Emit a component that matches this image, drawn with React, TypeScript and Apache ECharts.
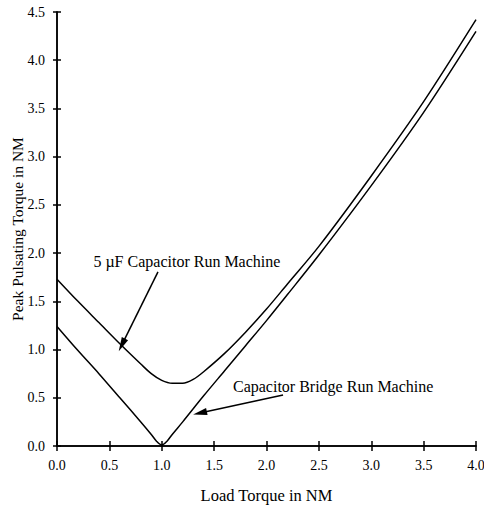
import React, { useEffect, useRef } from "react";
import * as echarts from "echarts";

const xTicks = [0, 0.5, 1.0, 1.5, 2.0, 2.5, 3.0, 3.5, 4.0];
const yTicks = [0, 0.5, 1.0, 1.5, 2.0, 2.5, 3.0, 3.5, 4.0, 4.5];

const capRunX = [0, 0.2, 0.4, 0.6, 0.8, 0.9, 1.0, 1.1, 1.2, 1.3, 1.4, 1.6, 1.8, 2.0, 2.2, 2.5, 3.0, 3.5, 4.0];
const capRunY = [1.73, 1.5, 1.28, 1.06, 0.85, 0.75, 0.68, 0.65, 0.65, 0.69, 0.77, 0.96, 1.18, 1.42, 1.68, 2.07, 2.8, 3.57, 4.42];

const bridgeX = [0, 0.2, 0.4, 0.6, 0.8, 0.9, 0.95, 1.0, 1.05, 1.1, 1.2, 1.4, 1.6, 1.8, 2.0, 2.2, 2.5, 3.0, 3.5, 4.0];
const bridgeY = [1.24, 0.99, 0.75, 0.5, 0.25, 0.12, 0.05, 0.01, 0.05, 0.12, 0.25, 0.52, 0.78, 1.04, 1.3, 1.57, 1.98, 2.7, 3.46, 4.3];

const label1 = "5 \u00B5F Capacitor Run Machine";
const label2 = "Capacitor Bridge Run Machine";
const arrow1 = [[0.964, 1.805], [0.619, 1.048]];
const arrow2 = [[2.158, 0.529], [1.365, 0.342]];
const label1Pos = [1.24, 1.91];
const label2Pos = [1.68, 0.62];

const FONT = "Liberation Serif";

export default function App() {
  const ref = useRef<HTMLDivElement>(null);
  useEffect(() => {
    const chart = echarts.init(ref.current!, undefined, { renderer: "svg" });
    const axisCommon = {
      type: "value",
      interval: 0.5,
      axisLine: { show: true, lineStyle: { color: "#000", width: 1.5 } },
      splitLine: { show: false },
    };
    const arrowLine = (pts: number[][]) => ({
      silent: true,
      symbol: ["none", "triangle"],
      symbolSize: [7, 14],
      label: { show: false },
      lineStyle: { color: "#000", width: 1.5, type: "solid" },
      data: [[{ coord: pts[0] }, { coord: pts[1] }]],
    });
    chart.setOption({
      animation: false,
      backgroundColor: "#fff",
      grid: { left: 57, right: 8, top: 12, bottom: 60, containLabel: false, outerBoundsMode: "none" },
      xAxis: [
        {
          ...axisCommon,
          min: 0,
          max: 4,
          name: "Load Torque in NM",
          nameLocation: "middle",
          nameGap: 41,
          nameTextStyle: { fontFamily: FONT, fontSize: 16.5, color: "#000" },
          axisTick: { show: true, length: 5, lineStyle: { color: "#000", width: 1.5 } },
          axisLabel: {
            fontFamily: FONT,
            fontSize: 14,
            color: "#000",
            margin: 12,
            formatter: (v: number) => (xTicks.includes(v) ? v.toFixed(1) : ""),
          },
        },
        {
          ...axisCommon,
          min: 0,
          max: 4,
          position: "bottom",
          axisTick: { show: true, inside: true, length: 5, lineStyle: { color: "#000", width: 1.5 } },
          axisLabel: { show: false },
        },
      ],
      yAxis: [
        {
          ...axisCommon,
          min: 0,
          max: 4.5,
          name: "Peak Pulsating Torque in NM",
          nameLocation: "middle",
          nameGap: 32,
          nameMoveOverlap: false,
          nameTextStyle: { fontFamily: FONT, fontSize: 15.5, color: "#000" },
          axisTick: { show: true, length: 4, lineStyle: { color: "#000", width: 1.5 } },
          axisLabel: {
            fontFamily: FONT,
            fontSize: 14,
            color: "#000",
            margin: 12,
            formatter: (v: number) => (yTicks.includes(v) ? v.toFixed(1) : ""),
          },
        },
        {
          ...axisCommon,
          min: 0,
          max: 4.5,
          position: "left",
          axisTick: { show: true, inside: true, length: 4, lineStyle: { color: "#000", width: 1.5 } },
          axisLabel: { show: false },
        },
      ],
      series: [
        {
          type: "line",
          name: label1,
          data: capRunX.map((x, i) => [x, capRunY[i]]),
          smooth: 0.3,
          showSymbol: false,
          lineStyle: { color: "#000", width: 1.5 },
          markLine: arrowLine(arrow1),
        },
        {
          type: "line",
          name: label2,
          data: bridgeX.map((x, i) => [x, bridgeY[i]]),
          smooth: 0.3,
          showSymbol: false,
          lineStyle: { color: "#000", width: 1.5 },
          markLine: arrowLine(arrow2),
        },
      ],
    });
    const p1 = chart.convertToPixel({ gridIndex: 0 }, label1Pos) as number[];
    const p2 = chart.convertToPixel({ gridIndex: 0 }, label2Pos) as number[];
    chart.setOption({
      graphic: [
        {
          type: "text",
          x: p1[0],
          y: p1[1],
          style: {
            text: label1,
            font: `16px ${FONT}`,
            fill: "#000",
            align: "center",
            verticalAlign: "middle",
          },
        },
        {
          type: "text",
          x: p2[0],
          y: p2[1],
          style: {
            text: label2,
            font: `16px ${FONT}`,
            fill: "#000",
            align: "left",
            verticalAlign: "middle",
          },
        },
      ],
    });
    return () => chart.dispose();
  }, []);
  return <div ref={ref} style={{ width: 484, height: 506, position: "absolute", left: 0, top: 0 }} />;
}
